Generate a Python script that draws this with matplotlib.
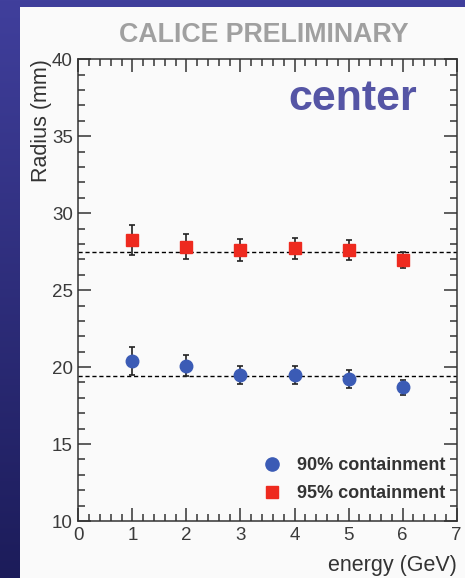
import numpy as np
import matplotlib
matplotlib.use("Agg")
import matplotlib.pyplot as plt
from matplotlib.patches import Rectangle
from matplotlib.lines import Line2D
from matplotlib.ticker import MultipleLocator

# data
energy = [1, 2, 3, 4, 5, 6]
r90 = [20.40, 20.09, 19.51, 19.47, 19.21, 18.69]
r90_err = [0.93, 0.67, 0.58, 0.60, 0.58, 0.50]
r95 = [28.26, 27.82, 27.59, 27.72, 27.59, 26.94]
r95_err = [0.95, 0.80, 0.72, 0.70, 0.64, 0.52]
r90_mean = 19.44
r95_mean = 27.50

BLUE = "#3b5bb5"
RED = "#ee2a1f"
INK = "#333333"
FONT = ["Liberation Sans", "DejaVu Sans"]

plt.rcParams["font.family"] = FONT

W, H = 465, 578
fig = plt.figure(figsize=(W / 100, H / 100), dpi=100)

# slide background: dark blue vertical gradient
bg = fig.add_axes([0, 0, 1, 1], zorder=-10)
top = np.array([0x40, 0x3f, 0x9c]) / 255
bot = np.array([0x1c, 0x1c, 0x5a]) / 255
t = np.linspace(0, 1, 256)[:, None]
grad = (top * (1 - t) + bot * t)[:, None, :]
bg.imshow(grad, aspect="auto", extent=[0, 1, 0, 1])
bg.axis("off")

# white panel
fig.patches.append(Rectangle((20 / W, 0), 1, 1 - 7 / H, transform=fig.transFigure,
                             facecolor="#fafafa", edgecolor="none", zorder=-5))

ax = fig.add_axes([78.3 / W, 1 - 521 / H, (456.7 - 78.3) / W, (521 - 59.3) / H])
ax.set_facecolor("none")

ax.axhline(r95_mean, color="black", lw=1.0, ls=(0, (3, 2)), zorder=1)
ax.axhline(r90_mean, color="black", lw=1.0, ls=(0, (3, 2)), zorder=1)

ax.errorbar(energy, r95, yerr=r95_err, fmt="s", color=RED, ms=8.5, mec=RED,
            ecolor="#222222", elinewidth=1.2, capsize=2, capthick=1.2, zorder=3)
ax.errorbar(energy, r90, yerr=r90_err, fmt="o", color=BLUE, ms=9, mec=BLUE,
            ecolor="#222222", elinewidth=1.2, capsize=2, capthick=1.2, zorder=3)

ax.set_xlim(0, 7)
ax.set_ylim(10, 40)
ax.xaxis.set_major_locator(MultipleLocator(1))
ax.xaxis.set_minor_locator(MultipleLocator(0.2))
ax.yaxis.set_major_locator(MultipleLocator(5))
ax.yaxis.set_minor_locator(MultipleLocator(1))
ax.tick_params(which="both", direction="in", top=True, right=True,
               color=INK, width=1.1, labelsize=13.5, labelcolor="#3a3a3a")
ax.tick_params(which="major", length=9.5, pad=4)
ax.tick_params(which="minor", length=4.8)
for s in ax.spines.values():
    s.set_color(INK)
    s.set_linewidth(1.1)

ax.set_ylabel("Radius (mm)", loc="top", fontsize=15.5, color="#333333", labelpad=0)
ax.set_xlabel("energy (GeV)", loc="right", fontsize=15.5, color="#333333", labelpad=8)

fig.text(263.5 / W, 1 - 34.5 / H, "CALICE PRELIMINARY", ha="center", va="center",
         fontsize=19.3, fontweight="bold", color="#a0a0a0")
ax.text(0.895, 0.915, "center", transform=ax.transAxes, ha="right", va="center",
        fontsize=31, fontweight="bold", color="#5555a5")

handles = [
    Line2D([], [], ls="none", marker="o", ms=9.5, color=BLUE),
    Line2D([], [], ls="none", marker="s", ms=9, color=RED),
]
ax.legend(handles, ["90% containment", "95% containment"], loc="lower right",
          bbox_to_anchor=(1.012, 0.006), frameon=False, handletextpad=0.35,
          labelspacing=0.6, prop={"family": FONT, "weight": "bold", "size": 13},
          labelcolor="#333333")

fig.savefig("out.png", dpi=100)
